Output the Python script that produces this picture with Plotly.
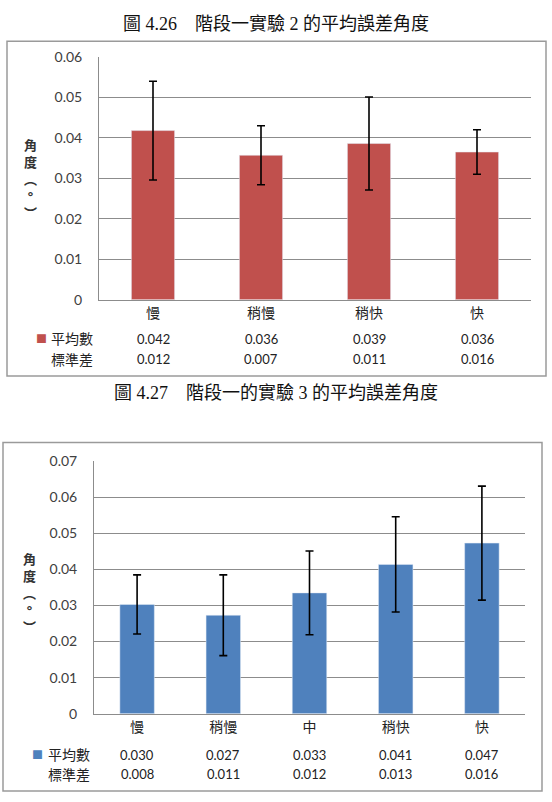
import plotly.graph_objects as go

W, H = 552, 802

# ---------------- data ----------------
cats1 = ["慢", "稍慢", "稍快", "快"]
mean1 = [0.0418, 0.0357, 0.0386, 0.0365]
err1 = [0.0122, 0.0073, 0.0115, 0.0055]
tbl_mean1 = ["0.042", "0.036", "0.039", "0.036"]
tbl_sd1 = ["0.012", "0.007", "0.011", "0.016"]

cats2 = ["慢", "稍慢", "中", "稍快", "快"]
mean2 = [0.0303, 0.0273, 0.0335, 0.0414, 0.0473]
err2 = [0.0082, 0.0112, 0.0116, 0.0132, 0.0158]
tbl_mean2 = ["0.030", "0.027", "0.033", "0.041", "0.047"]
tbl_sd2 = ["0.008", "0.011", "0.012", "0.013", "0.016"]

title1 = "圖 4.26　階段一實驗 2 的平均誤差角度"
title2 = "圖 4.27　階段一的實驗 3 的平均誤差角度"
ytitle = "<b>角<br>度<br>︵<br>°<br>︶</b>"
row_mean = "平均數"
row_sd = "標準差"

RED = "#C0504D"
BLUE = "#4F81BD"
GRID = "#8C8C8C"
BOX = "#9A9A9A"
FONT = "Lato, Noto Sans CJK TC, sans-serif"
SERIF = "Liberation Serif, Noto Sans CJK TC, serif"


def px(y):
    return 1 - y / H


def pxx(x):
    return x / W


fig = go.Figure()
fig.add_trace(go.Bar(x=cats1, y=mean1, marker_color=RED, width=0.4,
                     error_y=dict(type="data", array=err1, color="black",
                                  thickness=1.6, width=4),
                     xaxis="x", yaxis="y", showlegend=False))
fig.add_trace(go.Bar(x=cats2, y=mean2, marker_color=BLUE, width=0.4,
                     error_y=dict(type="data", array=err2, color="black",
                                  thickness=1.6, width=4),
                     xaxis="x2", yaxis="y2", showlegend=False))

axis_common = dict(showline=True, linecolor=GRID, linewidth=1)
fig.update_layout(
    width=W, height=H, margin=dict(l=0, r=0, t=0, b=0),
    paper_bgcolor="white", plot_bgcolor="white",
    font=dict(family=FONT, size=13, color="#404040"),
    xaxis=dict(domain=[pxx(99), pxx(531)], anchor="y", showgrid=False,
               tickfont=dict(size=14, color="#222222"), **axis_common),
    yaxis=dict(domain=[px(297), px(49)], anchor="x", range=[0, 0.06], dtick=0.01,
               showgrid=True, gridcolor=GRID, gridwidth=1, zeroline=False,
               ticklabelstandoff=13, tickfont=dict(size=14, color="#404040"),
               **axis_common),
    xaxis2=dict(domain=[pxx(94), pxx(525)], anchor="y2", showgrid=False,
                tickfont=dict(size=14, color="#222222"), **axis_common),
    yaxis2=dict(domain=[px(720), px(462)], anchor="x2", range=[0, 0.07], dtick=0.01,
                showgrid=True, gridcolor=GRID, gridwidth=1, zeroline=False,
                ticklabelstandoff=13, tickfont=dict(size=14, color="#404040"),
                **axis_common),
)

shapes = [
    dict(type="rect", xref="paper", yref="paper", x0=pxx(7), x1=pxx(546),
         y0=px(375), y1=px(33), line=dict(color=BOX, width=1.5)),
    dict(type="rect", xref="paper", yref="paper", x0=pxx(3), x1=pxx(542),
         y0=px(799), y1=px(443), line=dict(color=BOX, width=1.5)),
]
fig.update_layout(shapes=shapes)


def note(text, x, y, size, color="#222222", xref="paper", xanchor="center", family=None):
    f = dict(size=size, color=color)
    if family:
        f["family"] = family
    return dict(text=text, x=x, y=y, xref=xref, yref="paper", showarrow=False,
                xanchor=xanchor, yanchor="middle", font=f)


ann = []
ann.append(note(title1, 0.5, px(15), 18, "#111111", family=SERIF))
ann.append(note(title2, 0.5, px(392), 18, "#111111", family=SERIF))
ann.append(note(ytitle, pxx(30), px(174), 13, "#333333"))
ann.append(note(ytitle, pxx(29), px(597), 13, "#333333"))

# table rows chart 1
for label_y, label, vals in [(337, row_mean, tbl_mean1), (358, row_sd, tbl_sd1)]:
    ann.append(note(label, pxx(49), px(label_y), 14, xanchor="left"))
    for c, v in zip(cats1, vals):
        ann.append(note(v, c, px(label_y), 13, xref="x"))
ann.append(note("■", pxx(41), px(337), 11, RED))

# table rows chart 2
for label_y, label, vals in [(762, row_mean, tbl_mean2), (782, row_sd, tbl_sd2)]:
    ann.append(note(label, pxx(46), px(label_y), 14, xanchor="left"))
    for c, v in zip(cats2, vals):
        ann.append(note(v, c, px(label_y), 13, xref="x2"))
ann.append(note("■", pxx(37), px(762), 11, BLUE))

fig.update_layout(annotations=ann)
fig.write_html("out.html")
